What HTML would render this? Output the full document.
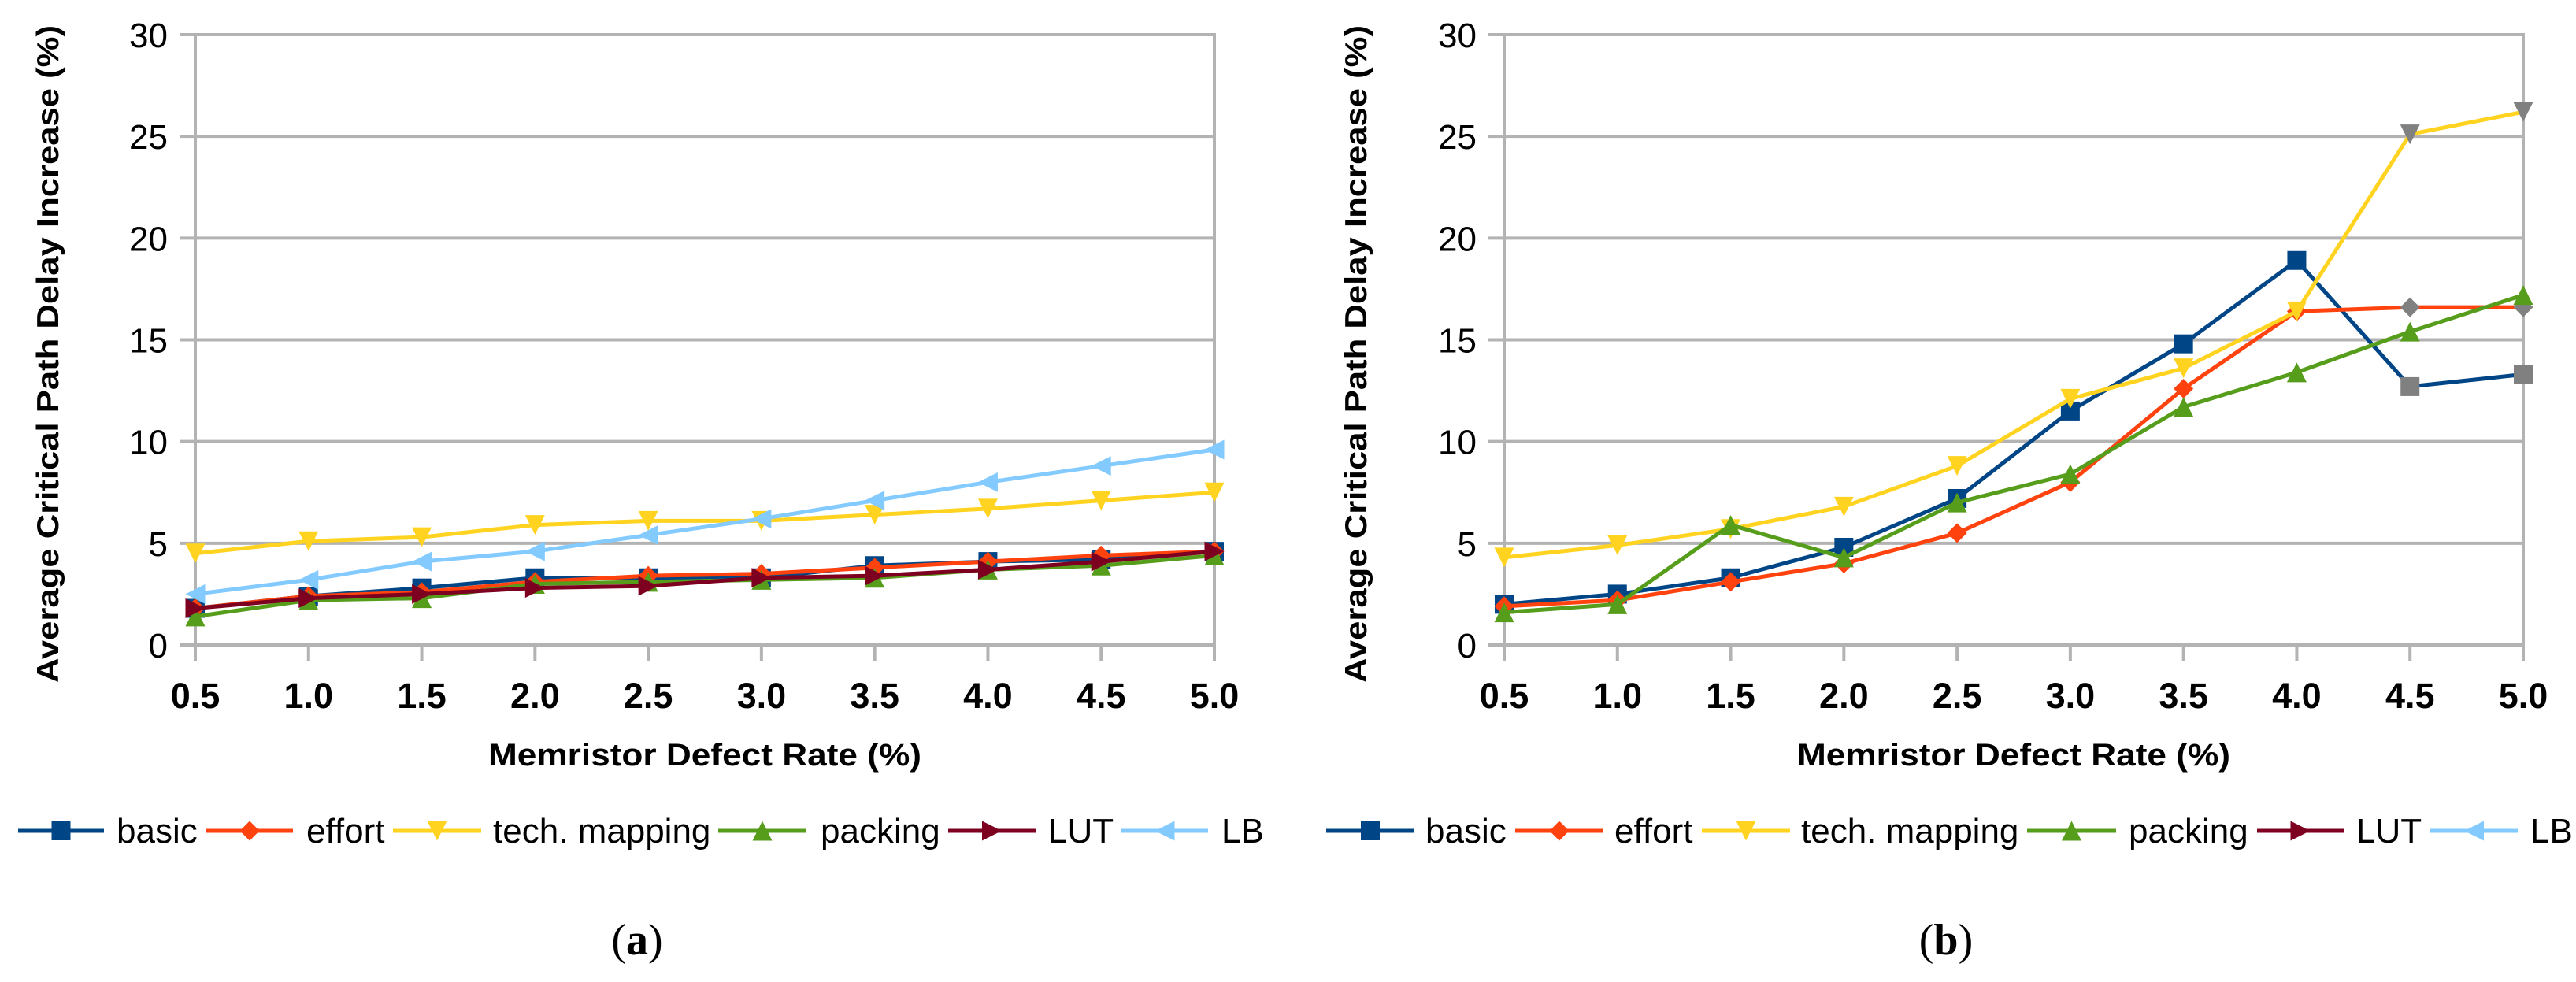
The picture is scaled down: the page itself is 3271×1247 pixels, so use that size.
<!DOCTYPE html>
<html><head><meta charset="utf-8"><style>
html,body{margin:0;padding:0;background:#fff;}
svg{display:block;font-family:"Liberation Sans",sans-serif;}
</style></head><body>
<svg id="fig" width="3271" height="1247" viewBox="0 0 3271 1247" xmlns="http://www.w3.org/2000/svg"></svg>
<script>
const categories = ["0.5","1.0","1.5","2.0","2.5","3.0","3.5","4.0","4.5","5.0"];
const yTicks = [0,5,10,15,20,25,30];
const seriesNames = ["basic","effort","tech. mapping","packing","LUT","LB"];
const seriesColors = ["#004586","#ff420e","#ffd320","#579d1c","#7e0021","#83caff"];
const seriesMarkers = ["square","diamond","down","up","right","left"];
// chart (a)
const aBasic   = [1.8,2.4,2.8,3.3,3.3,3.3,3.9,4.1,4.2,4.6];
const aEffort  = [1.8,2.4,2.6,3.1,3.4,3.5,3.8,4.1,4.4,4.6];
const aTech    = [4.5,5.1,5.3,5.9,6.1,6.1,6.4,6.7,7.1,7.5];
const aPacking = [1.4,2.2,2.3,3.0,3.1,3.2,3.3,3.7,3.9,4.4];
const aLUT     = [1.8,2.3,2.5,2.8,2.9,3.3,3.4,3.7,4.1,4.6];
const aLB      = [2.5,3.2,4.1,4.6,5.4,6.2,7.1,8.0,8.8,9.6];
// chart (b)
const bBasic   = [2.0,2.5,3.3,4.8,7.2,11.5,14.8,18.9,12.7,13.3];
const bEffort  = [1.9,2.2,3.1,4.0,5.5,8.0,12.6,16.4,16.6,16.6];
const bTech    = [4.3,4.9,5.7,6.8,8.8,12.1,13.6,16.4,25.1,26.2];
const bPacking = [1.6,2.0,5.9,4.3,7.0,8.4,11.7,13.4,15.4,17.2];
const bGrayIdx = [8,9]; // points drawn with gray markers in (b)

const NS="http://www.w3.org/2000/svg";
const svg=document.getElementById('fig');
function mk(tag,attrs,parent){const e=document.createElementNS(NS,tag);for(const k in attrs)e.setAttribute(k,attrs[k]);(parent||svg).appendChild(e);return e;}

function marker(g,type,cx,cy,color){
  const s=12.5;let pts;
  if(type==="square"){return mk('rect',{x:cx-12,y:cy-12,width:24,height:24,fill:color},g);}
  if(type==="diamond")pts=[[cx,cy-s],[cx+s,cy],[cx,cy+s],[cx-s,cy]];
  if(type==="down")pts=[[cx-s,cy-s],[cx+s,cy-s],[cx,cy+s]];
  if(type==="up")pts=[[cx-s,cy+s],[cx+s,cy+s],[cx,cy-s]];
  if(type==="right")pts=[[cx-s,cy-s],[cx-s,cy+s],[cx+s,cy]];
  if(type==="left")pts=[[cx+s,cy-s],[cx+s,cy+s],[cx-s,cy]];
  return mk('polygon',{points:pts.map(p=>p.join(',')).join(' '),fill:color},g);
}

function chart(opt){
  const {x0,x1,y0,y1,name,series,legend,yTitleX,tickRight,caption,capX,grayIdx}=opt;
  const g=mk('g',{});
  
  
  const xs=i=>x0+(x1-x0)*i/(categories.length-1);
  const ys=v=>y0-(y0-y1)*v/30;
  // grid + y ticks
  yTicks.forEach(t=>{
    const l=mk('line',{x1:x0-20,x2:x1,y1:ys(t),y2:ys(t),stroke:'#b3b3b3','stroke-width':4},g);
    
    
    const tx=mk('text',{x:tickRight,y:ys(t)+16,'text-anchor':'end','font-size':44,fill:'#000'},g);
    tx.textContent=t;
    
    
  });
  mk('line',{x1:x0,x2:x0,y1:y1-2,y2:y0+21,stroke:'#b3b3b3','stroke-width':4},g);
  mk('line',{x1:x1,x2:x1,y1:y1-2,y2:y0+21,stroke:'#b3b3b3','stroke-width':4},g);
  categories.forEach((c,i)=>{
    const l=mk('line',{x1:xs(i),x2:xs(i),y1:y0,y2:y0+21,stroke:'#b3b3b3','stroke-width':4},g);
    
    
    const tx=mk('text',{x:xs(i),y:y0+80,'text-anchor':'middle','font-size':45,'font-weight':'bold',fill:'#000'},g);
    tx.textContent=c;
    
    
  });
  const yt=mk('text',{x:0,y:0,'text-anchor':'middle','font-size':39,'font-weight':'bold',textLength:835,lengthAdjust:'spacingAndGlyphs',transform:`translate(${yTitleX},${(y0+y1)/2+18}) rotate(-90)`},g);
  yt.textContent="Average Critical Path Delay Increase (%)";
  
  
  const xt=mk('text',{x:(x0+x1)/2,y:972,'text-anchor':'middle','font-size':40,'font-weight':'bold',textLength:550,lengthAdjust:'spacingAndGlyphs'},g);
  xt.textContent="Memristor Defect Rate (%)";
  
  
  // series
  series.forEach(s=>{
    if(!s.data)return;
    const sg=mk('g',{},g);
    
    
    const col=seriesColors[s.idx];
    mk('polyline',{points:s.data.map((v,i)=>xs(i)+','+ys(v)).join(' '),fill:'none',stroke:col,'stroke-width':5,'stroke-linejoin':'round'},sg);
    s.data.forEach((v,i)=>{
      const gray=grayIdx&&s.gray&&grayIdx.includes(i);
      const m=marker(sg,seriesMarkers[s.idx],xs(i),ys(v),gray?'#808080':col);
      
      
    });
  });
  // legend
  legend.forEach((L,k)=>{
    const lg=mk('g',{},g);
    
    
    const col=seriesColors[k];
    mk('line',{x1:L[0],x2:L[1],y1:1055,y2:1055,stroke:col,'stroke-width':5},lg);
    marker(lg,seriesMarkers[k],(L[0]+L[1])/2,1055,col);
    const tx=mk('text',{x:L[2],y:1070,'font-size':44,fill:'#000'},lg);
    tx.textContent=seriesNames[k];
  });
  const cp=mk('text',{x:capX,y:1212,'text-anchor':'middle','font-size':56,'font-family':'"Liberation Serif",serif'},g);
  cp.innerHTML='(<tspan font-weight="bold">'+caption+'</tspan>)';
  
  
}

chart({x0:248,x1:1542,y0:819,y1:44,name:'chart-a',tickRight:213,yTitleX:74,caption:'a',capX:809,
  series:[{idx:0,data:aBasic},{idx:1,data:aEffort},{idx:2,data:aTech},{idx:3,data:aPacking},{idx:4,data:aLUT},{idx:5,data:aLB}],
  legend:[[23,132,148],[262,372,389],[499,611,626],[912,1024,1042],[1204,1315,1331],[1424,1534,1551]]});
chart({x0:1910,x1:3204,y0:819,y1:44,name:'chart-b',tickRight:1875,yTitleX:1735,caption:'b',capX:2471,grayIdx:bGrayIdx,
  series:[{idx:0,data:bBasic,gray:true},{idx:1,data:bEffort,gray:true},{idx:2,data:bTech,gray:true},{idx:3,data:bPacking}],
  legend:[[1684,1796,1810],[1924,2036,2050],[2161,2273,2287],[2574,2687,2703],[2866,2976,2992],[3086,3197,3213]]});
</script>
</body></html>
